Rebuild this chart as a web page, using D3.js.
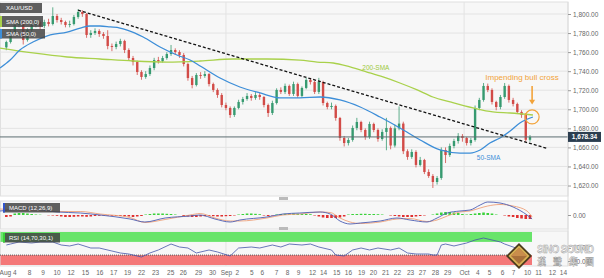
<!DOCTYPE html>
<html lang="en">
<head>
<meta charset="UTF-8">
<title>XAU/USD</title>
<script src="https://d3js.org/d3.v7.min.js"></script>
<style>
  body { margin: 0; background: #fff; font-family: "Liberation Sans", Arial, sans-serif; }
  svg { display: block; }
  .axis text { fill: #666; font-size: 6.5px; font-family: "Liberation Sans", Arial, sans-serif; }
  .axis path { display: none; }
  .axis line { stroke: #999; }
</style>
</head>
<body>
<svg width="604" height="278"></svg>
<script>
// candles: [open, high, low, close], one per bar
const candles = [
  [1765,1772,1762,1770.6],[1770.6,1783,1769,1781],[1781,1790,1779,1788.5],[1788.5,1794,1786,1791.6],
  [1791.6,1793,1768,1772.7],[1772.7,1785,1771,1783.2],[1783.2,1790,1781,1788.5],[1788.5,1794,1786,1791.6],
  [1791.6,1793,1784,1787.4],[1787.4,1794,1785,1791.6],[1791.6,1795,1787,1789.5],[1789.5,1807,1788,1797.9],
  [1797.9,1800,1791,1793.7],[1793.7,1796,1789,1791.6],[1791.6,1793,1786,1788.5],[1788.5,1793,1786,1789.5],
  [1789.5,1799,1788,1796.9],[1796.9,1805,1795,1802.1],[1802.1,1804,1797,1800],[1800,1801,1775,1778],
  [1778,1783,1775,1780.1],[1780.1,1785,1778,1782.2],[1782.2,1784,1776,1779],[1779,1781,1774,1776.9],
  [1776.9,1783,1763,1766.4],[1766.4,1769,1761,1765.4],[1765.4,1771,1763,1768.5],[1768.5,1774,1766,1771.7],
  [1771.7,1773,1759,1762.2],[1762.2,1764,1751,1753.8],[1753.8,1756,1746,1749.6],[1749.6,1751,1736,1739.1],
  [1739.1,1741,1731,1733.9],[1733.9,1740,1732,1737],[1737,1746,1735,1743.3],[1743.3,1754,1741,1751.7],
  [1751.7,1755,1748,1750.5],[1750.5,1756,1749,1753.8],[1753.8,1760,1752,1758],[1758,1767.5,1756,1762.2],
  [1762.2,1764,1757,1760.1],[1760.1,1762,1754,1757],[1757,1759,1745,1747.5],[1747.5,1749,1730,1732.8],
  [1732.8,1735,1722,1725.5],[1725.5,1738,1724,1736],[1736,1739,1732,1735],[1735,1740,1733,1737],
  [1737,1738,1724,1726.5],[1726.5,1728,1718,1720.3],[1720.3,1722,1712,1715],[1715,1717,1702,1704.5],
  [1704.5,1707,1699,1701.4],[1701.4,1703,1691,1694],[1694,1703,1692,1701.4],[1701.4,1710,1700,1707.7],
  [1707.7,1713,1705,1710.8],[1710.8,1717,1709,1714],[1714,1716,1709,1711.9],[1711.9,1718,1710,1715],
  [1715,1717,1710,1712.9],[1712.9,1714,1702,1704.5],[1704.5,1706,1692,1696.1],[1696.1,1709,1694,1706.6],
  [1706.6,1722,1705,1720.3],[1720.3,1723,1716,1718.2],[1718.2,1727,1716,1724.5],[1724.5,1726,1714,1716.1],
  [1716.1,1729,1714,1726.5],[1726.5,1728,1712,1714],[1714,1724,1712,1722.4],[1722.4,1733,1721,1730.8],
  [1730.8,1733,1726,1728.6],[1728.6,1730,1716,1718.2],[1718.2,1733,1716,1728.6],[1728.6,1730,1704,1706.6],
  [1706.6,1708,1700,1702.4],[1702.4,1707,1700,1703.5],[1703.5,1705,1688,1690.9],[1690.9,1692,1667,1669.9],
  [1669.9,1672,1661,1664.6],[1664.6,1670,1662,1667.8],[1667.8,1683,1666,1680.4],[1680.4,1691,1678,1686.7],
  [1686.7,1688,1676,1678.3],[1678.3,1680,1668,1670.9],[1670.9,1687,1669,1684.6],[1684.6,1686,1676,1678.3],
  [1678.3,1680,1666,1668.8],[1668.8,1679,1667,1676.2],[1676.2,1691,1657,1680.4],[1680.4,1682,1658,1662],
  [1662,1684,1660,1680],[1680,1703,1678,1685],[1685,1687,1653,1656],[1656,1658,1647,1650],
  [1650,1658,1648,1655.2],[1655.2,1657,1639,1641.6],[1641.6,1650,1640,1646.8],[1646.8,1648,1632,1634.2],
  [1634.2,1637,1628,1630],[1630,1632,1617.4,1623.7],[1623.7,1630,1621,1627.9],[1627.9,1660,1626,1657.3],
  [1657.3,1660,1643.6,1652],[1652,1664,1650,1661.5],[1661.5,1669,1659,1666.7],[1666.7,1675,1664,1672],
  [1672,1674,1666,1669.9],[1669.9,1671,1662,1664.6],[1664.6,1670,1662,1667.8],[1667.8,1704,1666,1701.4],
  [1701.4,1712,1699,1709.8],[1709.8,1727.6,1708,1724.5],[1724.5,1727,1718,1720.3],[1720.3,1722,1705,1707.7],
  [1707.7,1709,1699,1702.4],[1702.4,1715,1700,1712.9],[1712.9,1727.6,1711,1724.5],[1724.5,1726,1707,1709.8],
  [1709.8,1712,1703,1705.6],[1705.6,1707,1695,1697.2],[1697.2,1699,1691,1694],[1694,1696,1666,1668],
  [1668,1673,1666,1671]
];

// moving averages: [bar, price]
const sma50 = [[-1.5,1743.3],[0.9,1751.7],[3.2,1762.2],[6.3,1770.6],[10.4,1778],[14.4,1781.1],[17.5,1785.3],
  [19.8,1787.4],[22.2,1787.4],[24.6,1786.4],[26.9,1785.3],[28.6,1783.2],[32.4,1775.9],[36.4,1765.4],
  [40.4,1757],[43.5,1751.7],[45.9,1745.4],[50.6,1732.8],[55.3,1723.4],[60.1,1717.1],[64.8,1711.9],
  [69.5,1711.9],[74.3,1712.9],[79,1709.8],[83.8,1702.4],[88.5,1691.9],[93.2,1680.4],[98,1667.8],
  [102.7,1657.3],[107.4,1654.1],[109.8,1654.1],[112.2,1657.3],[114.5,1664.6],[116.9,1669.9],
  [119.3,1677.2],[121.6,1685.6],[124.7,1691.9]];
const sma200 = [[-1.5,1764.3],[6.3,1759.1],[14.4,1754.9],[22.2,1752.8],[30,1750.7],[38,1749.6],
  [45.9,1750.7],[53.7,1752.8],[61.7,1752.8],[69.5,1751.7],[73.6,1749.6],[77.4,1748.6],[81.4,1744.4],
  [85.4,1739.1],[89.2,1733.9],[93.2,1727.6],[97.3,1720.3],[101,1712.9],[105.1,1707.7],[110.5,1701.4],
  [115.2,1697.2],[119.3,1696.1],[124.7,1694]];
const trendLine = [[17,1804],[128,1659]];
const lastPriceText = "1,678.34";

const priceTicks = [1620, 1640, 1660, 1680, 1700, 1720, 1740, 1760, 1780, 1800];
const dateLabels = ["Aug 4","8","9","10","12","15","16","17","19","22","23","25","26","29","30","Sep",
  "2","5","6","7","8","9","12","14","15","16","19","20","21","22","23","27","28","29","Oct",
  "4","5","6","7","10","11","12","14"];
const dateTicks = [0.3,5.4,8.6,11.9,15.2,18.6,22,25.3,28.6,31.9,35.2,38.8,41.8,45.4,48.7,52,
  54.6,58,60.5,63.9,66.5,69.1,72.4,75,78.1,80.9,84,86.8,89.7,92.5,95.6,98.4,101.5,104.4,108.4,
  111.5,114.3,117.4,120,123.3,125.9,129.2,131.8];

// MACD (12,26,9): [bar, value]
const macdBars = [-1.5,5.6,12,17.5,22.2,29.3,32.8,37.6,43.5,45.9,49.4,53,55.3,61.7,65.5,69.5,74.3,76.7,
  79,81.4,83.8,88.5,92.5,95.6,99.6,102,104.4,107.4,109.8,112.2,114,116.9,120,123.3,124.5];
const macdValues = [4,6,3,2,0,-4,-7,-3,-1,0,-4,-7,-5,-2,1,2,3,1,-6,-9,-8,-6,-3,-5,-7,-3,2,4,5,10,13,12,8,0,-4];
const signalValues = [6,4.5,3.5,3.5,1,-2.5,-7.5,-4.5,0,1.5,-3,-6,-6,-3,0,1,3,2.5,-3,-7,-8.5,-7,-4,-3.5,-6.5,-5,-1,3,4,7,9,10.5,9,4,-2];
const histogram = [-2,-1.5, 1.5,2,2,1.5,1, 0.5,0.3,0,-0.3,-0.5,-0.8,
  -1.5,-2,-2,-1.8,-1.5,-1.5,-1.8,-1.5,-1,-0.8, -0.5,-0.5,-0.8,-1,-1,-1.2,-1.5, -2,-1.5,-1,
  0.5,1,1.5,1.5,1.5,1.2,1, 0.5,0,-1,-1.5, -2,-2,-1.5,-1.2, -1,-1.2,-1.5,-1.5,-1.2,-1,-0.5,
  0.5,1,1.5,1.5,1.2, 0.8,-0.5,-1,-0.5, 0.5,1,1.2,1.2,1.5,1.2,1,1,0.8,
  -0.5,-1.5,-2.5,-3,-3,-3,-2.5,-1.5, 0.5,1,1,1.2,1.2,1,1,0.8,0.5, 0,-0.5,-1,
  -1.5,-2,-2,-2,-1.5,-1, -0.5,0,0.5, 1.5,2.5,3,3,2.5,2, 1,0.5,1, 1.5,2,2.5,2,1.5,
  0.5,0,-0.5, -1.5,-2,-3,-3.5,-4,-4];

// RSI (14,70,30,1): [bar, value]
const rsiBars = [0,1,3,6,8,11,13,15,17,20,22,25,27,29,32,34,36,39,41,43,45,48,50,53,55,58,60,63,65,67,
  70,72,74,77,78,80,82,84,86,88,91,93,95,97,100,101,102,103,104,106,109,111,113,115,117,118,120,122,124];
const rsiValues = [60.6,63.6,69.7,66.7,69.7,69.7,60.6,57.6,63.6,51.5,51.5,42.4,36.4,33.3,24.2,36.4,45.5,
  63.6,54.5,51.5,36.4,45.5,39.4,27.3,51.5,54.5,51.5,60.6,54.5,63.6,60.6,63.6,54.5,45.5,30.3,27.3,45.5,
  51.5,45.5,51.5,45.5,51.5,36.4,33.3,33.3,30.3,30.3,60.6,63.6,57.6,66.7,75.8,81.8,75.8,69.7,63.6,54.5,45.5,30.3];

const svg = d3.select("svg");
const W = 568;
const x = d3.scaleLinear().domain([-1.5, 133]).range([0, W]);
const yP = d3.scaleLinear().domain([1609, 1812.6]).range([196, 2]);
const yM = d3.scaleLinear().domain([-14, 14]).range([229, 201]);
const yR = d3.scaleLinear().domain([0, 100]).range([265, 232]);

const upColor = "#379a70", downColor = "#d24b47";
const orange = "#f2a33a";
const monthTicks = dateTicks.filter((d, i) => dateLabels[i] === "Sep" || dateLabels[i] === "Oct");

// panel backgrounds
[[2, 196], [201, 229], [231, 266]].forEach(([a, b]) => {
  svg.append("rect").attr("x", 0.5).attr("y", a).attr("width", W - 0.5).attr("height", b - a)
    .attr("fill", "#f7f7f7").attr("stroke", "#e0e0e0");
});

// grid
svg.append("g").selectAll("line").data(priceTicks).join("line")
  .attr("x1", 0).attr("x2", W).attr("y1", d => yP(d)).attr("y2", d => yP(d))
  .attr("stroke", "#e3e3e3");
[[2, 196], [201, 229], [231, 266]].forEach(([a, b]) => {
  svg.append("g").selectAll("line").data(monthTicks).join("line")
    .attr("x1", d => x(d)).attr("x2", d => x(d)).attr("y1", a).attr("y2", b)
    .attr("stroke", "#e3e3e3");
});

// candles
const c = svg.append("g").selectAll("g").data(candles).join("g");
c.append("line")
  .attr("x1", (d, i) => x(i)).attr("x2", (d, i) => x(i))
  .attr("y1", d => yP(d[1])).attr("y2", d => yP(d[2]))
  .attr("stroke", d => d[3] >= d[0] ? upColor : downColor).attr("stroke-width", 0.8);
c.append("rect")
  .attr("x", (d, i) => x(i) - 1.2).attr("width", 2.4)
  .attr("y", d => yP(Math.max(d[0], d[3])))
  .attr("height", d => Math.max(0.8, Math.abs(yP(d[0]) - yP(d[3]))))
  .attr("fill", d => d[3] >= d[0] ? upColor : downColor);

// moving averages
const line = d3.line().x(d => x(d[0])).y(d => yP(d[1])).curve(d3.curveMonotoneX);
svg.append("path").datum(sma200).attr("d", line).attr("fill", "none")
  .attr("stroke", "#a9d14b").attr("stroke-width", 1.3);
svg.append("path").datum(sma50).attr("d", line).attr("fill", "none")
  .attr("stroke", "#3d8ed8").attr("stroke-width", 1.3);

// trend line
svg.append("path").datum(trendLine).attr("d", d3.line().x(d => x(d[0])).y(d => yP(d[1])))
  .attr("stroke", "#111").attr("stroke-width", 1.3).attr("stroke-dasharray", "3,2");

// last price line
const last = candles[candles.length - 1][3];
svg.append("line").attr("x1", 0).attr("x2", W).attr("y1", yP(last)).attr("y2", yP(last))
  .attr("stroke", "#5d6d72").attr("stroke-width", 1);

// annotations
svg.append("text").attr("x", x(87.5)).attr("y", yP(1741)).attr("text-anchor", "middle")
  .attr("font-size", 6.5).attr("fill", "#9cc93a").text("200-SMA");
svg.append("text").attr("x", x(114.2)).attr("y", yP(1647)).attr("text-anchor", "middle")
  .attr("font-size", 6.5).attr("fill", "#3d8ed8").text("50-SMA");
svg.append("text").attr("x", x(122.1)).attr("y", yP(1731)).attr("text-anchor", "middle")
  .attr("font-size", 8).attr("fill", orange).text("Impending bull cross");
const ax = x(124.5);
svg.append("line").attr("x1", ax).attr("x2", ax).attr("y1", yP(1724.5)).attr("y2", yP(1709))
  .attr("stroke", orange).attr("stroke-width", 1.6);
svg.append("path")
  .attr("d", `M${ax - 3},${yP(1710)} L${ax + 3},${yP(1710)} L${ax},${yP(1705)} Z`)
  .attr("fill", orange);
svg.append("circle").attr("cx", ax).attr("cy", yP(1692)).attr("r", 7)
  .attr("fill", "none").attr("stroke", orange).attr("stroke-width", 1.2);

// MACD
svg.append("g").selectAll("rect").data(histogram).join("rect")
  .attr("x", (d, i) => x(i) - 1.3).attr("width", 2.6)
  .attr("y", d => yM(Math.max(0, d))).attr("height", d => Math.abs(yM(d) - yM(0)))
  .attr("fill", d => d >= 0 ? "#3bd23b" : "#e03030");
const mline = d3.line().x((d, i) => x(macdBars[i])).y(d => yM(d)).curve(d3.curveMonotoneX);
svg.append("path").datum(signalValues).attr("d", mline).attr("fill", "none")
  .attr("stroke", "#eea27a").attr("stroke-width", 0.9);
svg.append("path").datum(macdValues).attr("d", mline).attr("fill", "none")
  .attr("stroke", "#4c5db3").attr("stroke-width", 0.9);

// RSI
const rEnd = x(candles.length - 1) + 1.5;
svg.append("rect").attr("x", 0.5).attr("y", yR(100)).attr("width", rEnd).attr("height", yR(70) - yR(100))
  .attr("fill", "#68e46a");
svg.append("rect").attr("x", 0.5).attr("y", yR(30)).attr("width", rEnd).attr("height", yR(0) - yR(30))
  .attr("fill", "#f47878");
svg.append("line").attr("x1", 0).attr("x2", rEnd).attr("y1", yR(30)).attr("y2", yR(30))
  .attr("stroke", "#555").attr("stroke-dasharray", "1,1");
svg.append("path").datum(rsiValues)
  .attr("d", d3.line().x((d, i) => x(rsiBars[i])).y(d => yR(d)))
  .attr("fill", "none").attr("stroke", "#4455a8").attr("stroke-width", 0.8);

// right axes
svg.append("line").attr("x1", W).attr("x2", W).attr("y1", 2).attr("y2", 266).attr("stroke", "#ddd");
svg.append("g").attr("class", "axis").attr("transform", `translate(${W},0)`)
  .call(d3.axisRight(yP).tickValues(priceTicks).tickSize(3).tickPadding(2).tickFormat(d3.format(",.2f")))
  .selectAll("text").attr("dy", "0.35em");
svg.append("g").attr("class", "axis").attr("transform", `translate(${W},0)`)
  .call(d3.axisRight(yM).tickValues([0]).tickSize(3).tickPadding(2).tickFormat(d3.format(".2f")));
svg.append("g").attr("class", "axis").attr("transform", `translate(${W},6)`)
  .call(d3.axisRight(yR).tickValues([70, 30]).tickSize(3).tickPadding(2).tickFormat(d3.format(".2f")));

// last price tag
svg.append("rect").attr("x", W).attr("y", yP(last) - 5).attr("width", 33).attr("height", 10)
  .attr("fill", "#2c3e50");
svg.append("text").attr("x", W + 16.5).attr("y", yP(last) + 2.3).attr("text-anchor", "middle")
  .attr("font-size", 6.5).attr("font-weight", "bold").attr("fill", "#fff").text(lastPriceText);

// bottom axis
svg.append("g").attr("class", "axis").attr("transform", "translate(0,266)")
  .call(d3.axisBottom(x).tickValues(dateTicks).tickSize(0).tickPadding(4)
    .tickFormat((d, i) => dateLabels[i]));

// legend boxes
const boxes = [
  { y: 3, w: 42, h: 10, text: "XAU/USD", mark: null },
  { y: 16, w: 43, h: 11, text: "SMA (200,0)", mark: "#a9d14b" },
  { y: 29, w: 45, h: 9.5, text: "SMA (50,0)", mark: "#3d8ed8" },
  { y: 203, w: 57, h: 9.5, text: "MACD (12,26,9)", mark: "#3355cc", x: 3 },
  { y: 233, w: 57, h: 9.5, text: "RSI (14,70,30,1)", mark: "#3bd23b", x: 3 }
];
boxes.forEach(b => {
  const bx = b.x || 0;
  svg.append("rect").attr("x", bx).attr("y", b.y).attr("width", b.w).attr("height", b.h)
    .attr("fill", "#444").attr("opacity", 0.85);
  if (b.mark) svg.append("rect").attr("x", bx).attr("y", b.y).attr("width", 2).attr("height", b.h)
    .attr("fill", b.mark);
  svg.append("text").attr("x", bx + 6).attr("y", b.y + b.h / 2 + 2.2)
    .attr("font-size", 6).attr("fill", "#fff").text(b.text);
});

// panel handles
[198.5, 228.5].forEach(y => svg.append("rect").attr("x", 279).attr("y", y - 1.5)
  .attr("width", 9).attr("height", 3).attr("fill", "#bbb"));

// watermark
const logo = svg.append("g").attr("transform", "translate(519,256)");
logo.append("path").attr("d", "M0,-13 L13,0 L0,13 L-13,0 Z").attr("fill", "#4a3a1c");
logo.append("path").attr("d", "M0,-10.5 L10.5,0 L0,10.5 L-10.5,0 Z").attr("fill", "#d8b254");
logo.append("path").attr("d", "M0,-8 L8,0 L0,8 L-8,0 Z").attr("fill", "#a8703a");
logo.append("path").attr("d", "M0,-8 L8,0 L-8,0 Z").attr("fill", "#c98d4c");
svg.append("text").attr("x", 537).attr("y", 253).attr("font-size", 10).attr("font-weight", "bold")
  .attr("textLength", 57).attr("fill", "#ececec").attr("stroke", "#9a9a9a").attr("stroke-width", 0.4)
  .text("SiNO SOUND");
svg.append("text").attr("x", 537).attr("y", 265).attr("font-size", 9).attr("font-weight", "bold")
  .attr("font-family", "Noto Sans CJK TC").attr("textLength", 57)
  .attr("fill", "#ececec").attr("stroke", "#9a9a9a").attr("stroke-width", 0.4)
  .text("漢聲集團");
</script>
</body>
</html>
